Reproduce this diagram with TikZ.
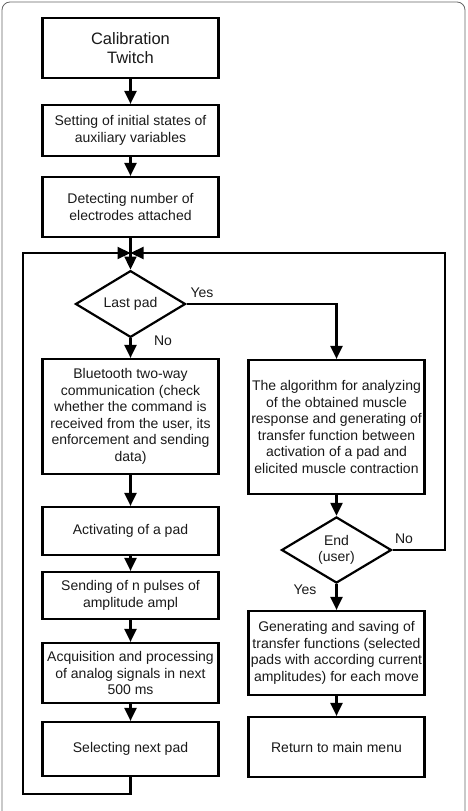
\documentclass[tikz,border=0pt]{standalone}
\usepackage{fontspec}
\setmainfont{Liberation Sans}
\usetikzlibrary{shapes.geometric,arrows.meta}

\begin{document}
\begin{tikzpicture}[x=1pt,y=1pt]
\tikzstyle{every node}+=[inner sep=0pt, text=black!90, align=center, font=\fontsize{14}{16.5}\selectfont]
\tikzstyle{box}=[draw=black, line width=2.2pt, rectangle, minimum width=176pt]
\tikzstyle{dec}=[draw=black, line width=2.2pt, diamond, minimum width=110pt, minimum height=66pt]
\tikzstyle{arr}=[draw=black, line width=2.2pt, -{Triangle[length=13pt,width=12pt]}]
\tikzstyle{line}=[draw=black, line width=2.2pt]
\useasboundingbox (0,0) rectangle (467,-811);
\draw [black!60, line width=0.8pt, rounded corners=8pt] (2,-811) -- (2,-2) -- (465,-2) -- (465,-811);
% left column
\node [box, minimum height=60pt, font=\fontsize{16.5}{19}\selectfont] (calib) at (130.5,-48) {Calibration\\Twitch};
\node [box, minimum height=51pt] (setting) at (130.5,-130.5) {Setting of initial states of\\auxiliary variables};
\node [box, minimum height=60pt] (detect) at (130.5,-207) {Detecting number of\\electrodes attached};
\coordinate (join) at (130.5,-253);
\node [dec] (lastpad) at (130.5,-304) {Last pad};
\node [box, minimum height=115pt] (bluetooth) at (130.5,-416.5) {Bluetooth two-way\\communication (check\\whether the command is\\received from the user, its\\enforcement and sending\\data)};
\node [box, minimum height=48pt] (activate) at (130.5,-531) {Activating of a pad};
\node [box, minimum height=47pt] (sending) at (130.5,-595.5) {Sending of n pulses of\\amplitude ampl};
\node [box, minimum height=60pt] (acquire) at (130.5,-673) {Acquisition and processing\\of analog signals in next\\500 ms};
\node [box, minimum height=54pt] (nextpad) at (130.5,-749) {Selecting next pad};
% right column
\node [box, minimum height=134pt] (algorithm) at (336.5,-427) {The algorithm for analyzing\\of the obtained muscle\\response and generating of\\transfer function between\\activation of a pad and\\elicited muscle contraction};
\node [dec] (enduser) at (336.5,-550) {End\\(user)};
\node [box, minimum height=84pt] (generate) at (336.5,-653) {Generating and saving of\\transfer functions (selected\\pads with according current\\amplitudes) for each move};
\node [box, minimum height=60pt] (mainmenu) at (336.5,-747) {Return to main menu};
% labels
\node (lastyes) at (202,-293) {Yes};
\node (lastno) at (163,-341) {No};
\node (endno) at (404,-539) {No};
\node (endyes) at (305,-590) {Yes};
% connectors
\draw [arr] (calib) -- (setting);
\draw [arr] (setting) -- (detect);
\draw [line] (detect) -- (join);
\draw [arr] (join) -- (lastpad);
\draw [arr] (lastpad) -- (bluetooth);
\draw [arr] (lastpad.east) -| (algorithm.north);
\draw [arr] (bluetooth) -- (activate);
\draw [arr] (activate) -- (sending);
\draw [arr] (sending) -- (acquire);
\draw [arr] (acquire) -- (nextpad);
\draw [arr] (nextpad.south) -- ++(0,-17) -| (23,-253) -- (join);
\draw [arr] (algorithm) -- (enduser);
\draw [arr] (enduser.east) -| (445,-253) -- (join);
\draw [arr] (enduser) -- (generate);
\draw [arr] (generate) -- (mainmenu);
\end{tikzpicture}
\end{document}
